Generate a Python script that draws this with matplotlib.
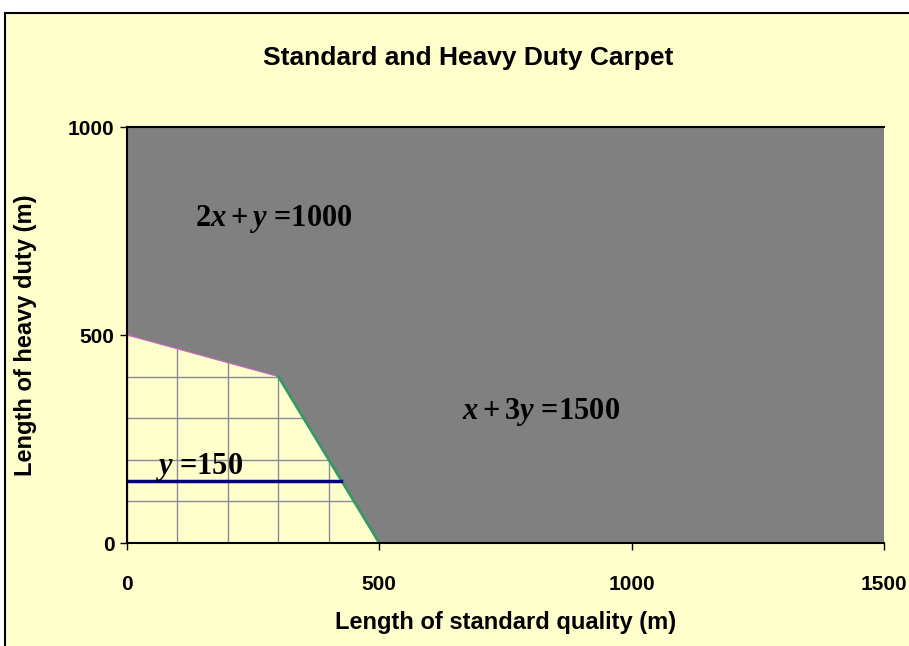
import matplotlib
matplotlib.use("Agg")
import matplotlib.pyplot as plt
from matplotlib.patches import Rectangle, Polygon

# constraint boundaries
c1_x = [0, 300]          # x + 3y = 1500 (active part)
c1_y = [500, 400]
c2_x = [300, 500]        # 2x + y = 1000 (active part)
c2_y = [400, 0]
y150_x = [0, 425]        # y = 150
y150_y = [150, 150]

# shaded (infeasible) region
shade_x = [0, 1500, 1500, 500, 300, 0]
shade_y = [1000, 1000, 0, 0, 400, 500]

x_ticks = [0, 500, 1000, 1500]
y_ticks = [0, 500, 1000]
grid_x = list(range(0, 1501, 100))
grid_y = list(range(0, 1001, 100))

plt.rcParams["font.family"] = "Liberation Sans"
plt.rcParams["mathtext.fontset"] = "custom"
plt.rcParams["mathtext.rm"] = "Liberation Serif:bold"
plt.rcParams["mathtext.it"] = "Liberation Serif:italic:bold"
plt.rcParams["mathtext.bf"] = "Liberation Serif:bold"

fig = plt.figure(figsize=(9.09, 6.46), dpi=100, facecolor="white")
fig.patches.append(Rectangle((0.0055, -0.1), 1.2, 1.08, transform=fig.transFigure,
                             facecolor="#FFFFCC", edgecolor="black", lw=1.5, zorder=-10))

ax = fig.add_axes([0.1397, 0.1594, 0.8328, 0.644])
ax.set_facecolor("none")
ax.set_xlim(0, 1500)
ax.set_ylim(0, 1000)

for gx in grid_x:
    ax.axvline(gx, color="#8a8a9a", lw=1, zorder=1)
for gy in grid_y:
    ax.axhline(gy, color="#8a8a9a", lw=1, zorder=1)

ax.add_patch(Polygon(list(zip(shade_x, shade_y)), closed=True, facecolor="#808080",
                     edgecolor="none", zorder=2, clip_on=False))

ax.plot(c1_x, c1_y, color="#cc66cc", lw=0.8, zorder=3)
ax.plot(c2_x, c2_y, color="#339966", lw=2, zorder=3)
ax.plot(y150_x, y150_y, color="#000080", lw=2.5, zorder=3)

ax.text(135, 780, r"$2x + y$ =1000", fontsize=22, family="Liberation Serif",
        weight="bold", va="center", zorder=4)
ax.text(664, 315, r"$x + 3y$ =1500", fontsize=22, family="Liberation Serif",
        weight="bold", va="center", zorder=4)
ax.text(55, 182, r"$y$ =150", fontsize=22, family="Liberation Serif",
        weight="bold", va="center", zorder=4)

ax.set_xticks(x_ticks)
ax.set_yticks(y_ticks)
ax.tick_params(axis="both", labelsize=15, length=5, width=1, direction="out", pad=18)
ax.tick_params(axis="y", pad=4)
for lab in ax.get_xticklabels() + ax.get_yticklabels():
    lab.set_fontweight("bold")

for s in ["left", "bottom", "top"]:
    ax.spines[s].set_color("black")
    ax.spines[s].set_linewidth(1.5)
    ax.spines[s].set_zorder(5)
ax.spines["right"].set_visible(False)

ax.set_xlabel("Length of standard quality (m)", fontsize=17, weight="bold", labelpad=12)
ax.set_ylabel("Length of heavy duty (m)", fontsize=17, weight="bold", labelpad=22)
fig.text(0.515, 0.91, "Standard and Heavy Duty Carpet", fontsize=19, weight="bold",
         ha="center", va="center")

fig.savefig("out.png", dpi=100, facecolor=fig.get_facecolor())
